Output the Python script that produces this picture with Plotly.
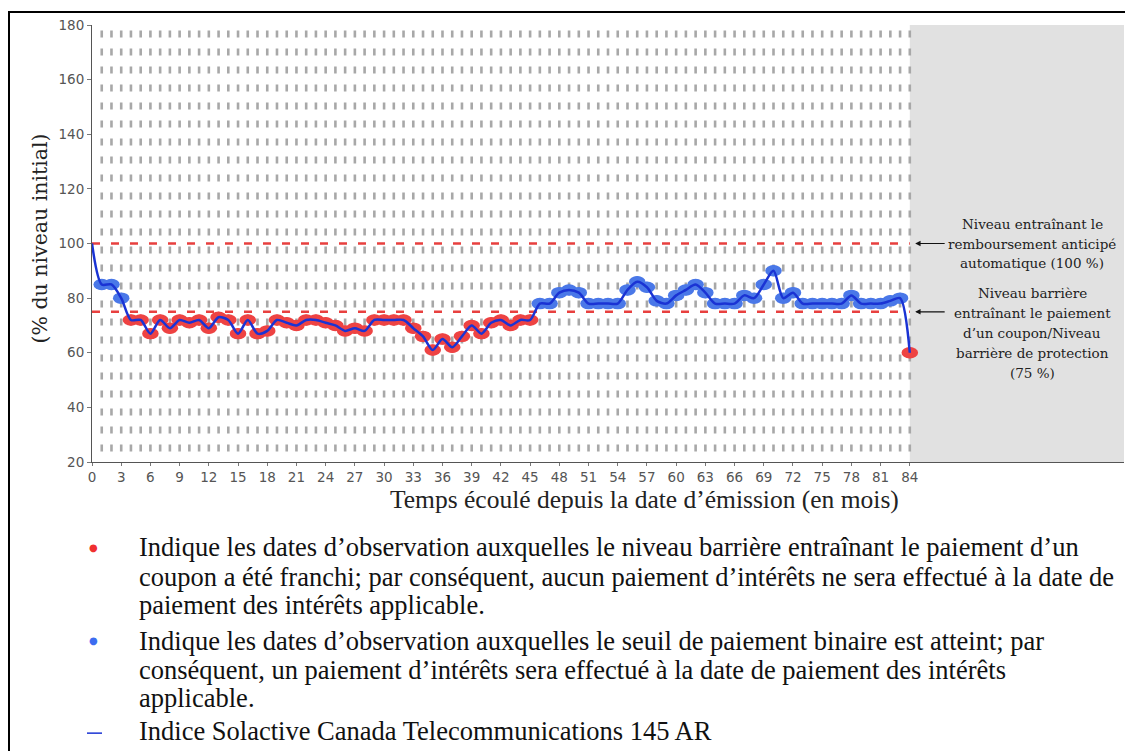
import plotly.graph_objects as go

# ---------------- data ----------------
months = list(range(0, 85))
index_level = [100, 85, 85, 80, 72, 72, 67, 72, 69, 72,
               71, 72, 69, 73, 72, 67, 72, 67, 68, 72,
               71, 70, 72, 72, 71, 70, 68, 69, 68, 72,
               72, 72, 72, 69, 66, 61, 65, 62, 66, 70,
               67, 71, 72, 70, 72, 72, 78, 78, 82, 83,
               82, 78, 78, 78, 78, 83, 86, 84, 79, 78,
               81, 83, 85, 82, 78, 78, 78, 81, 80, 85,
               90, 80, 82, 78, 78, 78, 78, 78, 81, 78,
               78, 78, 79, 80, 60]
barrier_level = 75
autocall_level = 100
x_ticks = list(range(0, 85, 3))
y_ticks = list(range(20, 181, 20))

right_text_100 = ["Niveau entraînant le", "remboursement anticipé", "automatique (100 %)"]
right_text_75 = ["Niveau barrière", "entraînant le paiement", "d’un coupon/Niveau",
                 "barrière de protection", "(75 %)"]
legend_lines = [
    "Indique les dates d’observation auxquelles le niveau barrière entraînant le paiement d’un",
    "coupon a été franchi; par conséquent, aucun paiement d’intérêts ne sera effectué à la date de",
    "paiement des intérêts applicable.",
    "Indique les dates d’observation auxquelles le seuil de paiement binaire est atteint; par",
    "conséquent, un paiement d’intérêts sera effectué à la date de paiement des intérêts",
    "applicable.",
    "Indice Solactive Canada Telecommunications 145 AR",
]

# ---------------- styling ----------------
OFF = 8  # page body margin
W, H = 1125, 743
ML, MR, MT, MB = 84, 9, 14, 289
PW, PH = W - ML - MR, H - MT - MB
XMAX = 106

RED = "#ee4343"
BLUE_M = "#4a78e8"
BLUE_L = "#1a33d4"


def px2paper_x(px):
    # px given in screenshot pixels
    return (px - OFF - ML) / PW


def py2paper_y(py):
    return (H - MB - (py - OFF)) / PH


obs_m = months[1:]
obs_v = index_level[1:]
obs_c = [RED if v < barrier_level else BLUE_M for v in obs_v]

fig = go.Figure()

# observation markers (circles; ellipse shapes widen them below)
fig.add_trace(go.Scatter(
    x=obs_m, y=obs_v, mode="markers",
    marker=dict(symbol="circle", size=11, color=obs_c, line=dict(width=0)),
    hoverinfo="skip", showlegend=False))

# index line
fig.add_trace(go.Scatter(
    x=months, y=index_level, mode="lines",
    line=dict(color=BLUE_L, width=2.5, shape="spline", smoothing=0.8),
    showlegend=False))

shapes = []
# grey region after maturity
shapes.append(dict(type="rect", xref="x", yref="y", x0=84, x1=XMAX, y0=20, y1=180,
                   fillcolor="#e1e1e1", line=dict(width=0), layer="below"))
# monthly dashed grid lines
for m in months[1:]:
    shapes.append(dict(type="line", xref="x", yref="y", x0=m, x1=m, y0=178, y1=20,
                       line=dict(color="#a8a8a8", width=2.6, dash="7px,11px"), layer="below"))
# level lines
for lvl in (autocall_level, barrier_level):
    shapes.append(dict(type="line", xref="x", yref="y", x0=0, x1=84, y0=lvl, y1=lvl,
                       line=dict(color="#e8403f", width=2.5, dash="8px,11px"), layer="below"))
# elliptical observation markers
for m, v, c in zip(obs_m, obs_v, obs_c):
    shapes.append(dict(type="circle", xref="x", yref="y", x0=m - 0.85, x1=m + 0.85,
                       y0=v - 2.1, y1=v + 2.1, fillcolor=c, line=dict(width=0), layer="below"))
# outer frame
shapes.append(dict(type="rect", xref="paper", yref="paper",
                   x0=px2paper_x(OFF + 1), x1=px2paper_x(1126), y0=py2paper_y(790),
                   y1=py2paper_y(OFF + 1),
                   line=dict(color="black", width=2), fillcolor="rgba(0,0,0,0)"))
# legend line sample
shapes.append(dict(type="line", xref="paper", yref="paper",
                   x0=px2paper_x(87), x1=px2paper_x(102), y0=py2paper_y(735), y1=py2paper_y(735),
                   line=dict(color=BLUE_L, width=1.5)))

ann = []
serif_r = dict(family="DejaVu Serif", size=13.5, color="#222")
for i, t in enumerate(right_text_100):
    ann.append(dict(xref="paper", yref="paper", x=px2paper_x(1032), y=py2paper_y(222 + 20 * i),
                    text=t, showarrow=False, xanchor="center", yanchor="middle", font=serif_r))
for i, t in enumerate(right_text_75):
    ann.append(dict(xref="paper", yref="paper", x=px2paper_x(1032), y=py2paper_y(292 + 20 * i),
                    text=t, showarrow=False, xanchor="center", yanchor="middle", font=serif_r))
for lvl in (autocall_level, barrier_level):
    ann.append(dict(xref="x", yref="y", x=84.55, y=lvl, text="", showarrow=True,
                    ax=31, ay=0, arrowhead=2, arrowsize=0.9, arrowwidth=1.2,
                    arrowcolor="#111", standoff=0))

# axis titles
ann.append(dict(xref="paper", yref="paper", x=px2paper_x(40), y=py2paper_y(237),
                text="(% du niveau initial)", showarrow=False, textangle=-90,
                xanchor="center", yanchor="middle",
                font=dict(family="DejaVu Serif", size=20.5, color="#222")))
ann.append(dict(xref="paper", yref="paper", x=px2paper_x(644), y=py2paper_y(500),
                text="Temps écoulé depuis la date d’émission (en mois)", showarrow=False,
                xanchor="center", yanchor="middle",
                font=dict(family="Liberation Serif", size=25.5, color="#222")))

# legend text below
leg_y = [548, 578, 606, 642, 671, 700, 733]
for t, yy in zip(legend_lines, leg_y):
    ann.append(dict(xref="paper", yref="paper", x=px2paper_x(137), y=py2paper_y(yy),
                    text=t, showarrow=False, xanchor="left", yanchor="middle",
                    font=dict(family="Liberation Serif", size=26.5, color="#111")))
ann.append(dict(xref="paper", yref="paper", x=px2paper_x(93), y=py2paper_y(548),
                text="●", showarrow=False, xanchor="center", yanchor="middle",
                font=dict(family="DejaVu Sans", size=10, color="#f03030")))
ann.append(dict(xref="paper", yref="paper", x=px2paper_x(93), y=py2paper_y(642),
                text="●", showarrow=False, xanchor="center", yanchor="middle",
                font=dict(family="DejaVu Sans", size=10, color="#3c6cf0")))

tick_font = dict(family="DejaVu Sans", size=13.5, color="#555")
fig.update_layout(
    width=W, height=H,
    margin=dict(l=ML, r=MR, t=MT, b=MB, pad=0),
    paper_bgcolor="white", plot_bgcolor="white",
    shapes=shapes, annotations=ann,
    xaxis=dict(range=[0, XMAX], tickvals=x_ticks, ticktext=[str(v) for v in x_ticks],
               showgrid=False, zeroline=False, showline=True, linecolor="#555", linewidth=1,
               ticks="outside", ticklen=3, tickcolor="#777", tickfont=tick_font),
    yaxis=dict(range=[20, 180], tickvals=y_ticks, showgrid=False, zeroline=False,
               showline=True, linecolor="#555", linewidth=1, ticks="outside", ticklen=4,
               tickcolor="#777", tickfont=tick_font),
    showlegend=False,
)

fig.write_html("out.html")
